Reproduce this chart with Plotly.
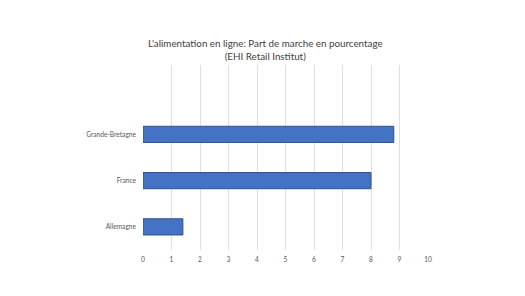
import plotly.graph_objects as go

categories = ["Allemagne", "France", "Grande-Bretagne"]
values = [1.4, 8.0, 8.8]
x_ticks = list(range(0, 11))

FONT = "Lato, Open Sans, Liberation Sans, sans-serif"

fig = go.Figure()
fig.add_trace(go.Bar(
    y=categories, x=values, orientation="h",
    width=0.35,
    marker=dict(color="#4472C4", line=dict(color="#2F528F", width=1)),
))

fig.update_layout(
    width=525, height=296,
    margin=dict(l=135, r=105, t=57, b=54),
    paper_bgcolor="white", plot_bgcolor="white",
    showlegend=False,
    title=dict(
        text="L'alimentation en ligne: Part de marche en pourcentage<br>(EHI Retail Institut)",
        x=0.49, xanchor="center", y=0.869, yanchor="middle",
        font=dict(family=FONT, size=9.8, color="#404040"),
    ),
    xaxis=dict(
        range=[0, 10], tickvals=x_ticks, ticktext=[str(v) for v in x_ticks],
        showgrid=True, gridcolor="#E0E0E0", gridwidth=1,
        zeroline=False, showline=False,
        tickfont=dict(family=FONT, size=6.6, color="#595959"),
        ticks="", ticklabelstandoff=4,
    ),
    yaxis=dict(
        type="category", range=[-0.5, 3.5],
        categoryorder="array", categoryarray=categories,
        showgrid=False, zeroline=False, showline=False,
        tickfont=dict(family=FONT, size=6.6, color="#595959"),
        ticks="", ticklabelstandoff=6,
    ),
)

fig.write_html("out.html")
